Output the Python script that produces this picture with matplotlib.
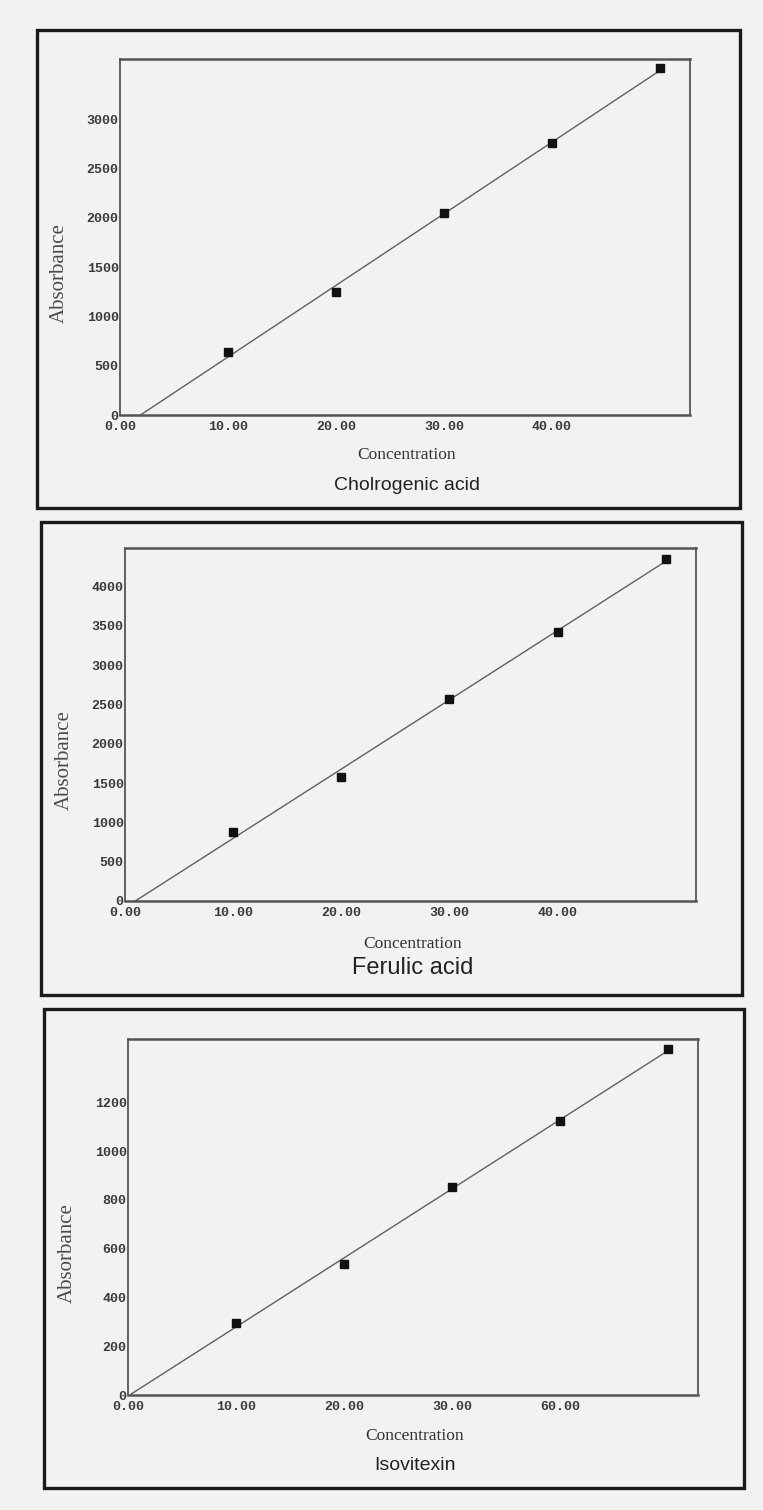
"""Three HPLC calibration curves (absorbance vs concentration), stacked."""

import matplotlib
matplotlib.use("Agg")
import matplotlib.pyplot as plt
import numpy as np
from matplotlib.patches import Rectangle

W, H = 763, 1510
PAPER = "#f2f2f2"

# ---- data -------------------------------------------------------------------
CONC = [10, 20, 30, 40, 50]

CHLOROGENIC = [640, 1245, 2045, 2755, 3515]
FERULIC = [875, 1575, 2565, 3425, 4355]
ISOVITEXIN = [295, 537, 853, 1123, 1418]

TITLES = ["Cholrogenic acid", "Ferulic acid", "Isovitexin"]
X_TICKS = [0, 10, 20, 30, 40]
X_TICKLABELS_1 = ["0.00", "10.00", "20.00", "30.00", "40.00"]
X_TICKLABELS_3 = ["0.00", "10.00", "20.00", "30.00", "60.00"]
Y_TICKS_1 = [0, 500, 1000, 1500, 2000, 2500, 3000]
Y_TICKS_2 = [0, 500, 1000, 1500, 2000, 2500, 3000, 3500, 4000]
Y_TICKS_3 = [0, 200, 400, 600, 800, 1000, 1200]
# -----------------------------------------------------------------------------

# layout in pixels: outer box (l, t, r, b), axes (l, t, r, b), title / xlabel y
PANELS = [
    dict(y=CHLOROGENIC, yticks=Y_TICKS_1, xlabels=X_TICKLABELS_1, ymax=3610,
         box=(37, 30, 740, 508), ax=(120, 59, 690, 415), title_y=485, xl_y=455,
         tsize=14),
    dict(y=FERULIC, yticks=Y_TICKS_2, xlabels=X_TICKLABELS_1, ymax=4490,
         box=(41, 522, 742, 995), ax=(125, 548, 696, 901), title_y=968, xl_y=944,
         tsize=17),
    dict(y=ISOVITEXIN, yticks=Y_TICKS_3, xlabels=X_TICKLABELS_3, ymax=1460,
         box=(44, 1009, 744, 1488), ax=(128, 1039, 698, 1395), title_y=1466,
         xl_y=1436, tsize=14),
]


def fx(px):
    return px / W


def fy(py):
    return 1 - py / H


fig = plt.figure(figsize=(W / 100, H / 100), dpi=100, facecolor=PAPER)

for p, title in zip(PANELS, TITLES):
    bl, bt, br, bb = p["box"]
    fig.patches.append(Rectangle((fx(bl), fy(bb)), fx(br - bl), (bb - bt) / H,
                                 transform=fig.transFigure, fill=False,
                                 edgecolor="#1a1a1a", linewidth=2.4))

    al, at, ar, ab = p["ax"]
    ax = fig.add_axes([fx(al), fy(ab), fx(ar - al), (ab - at) / H])
    ax.set_facecolor(PAPER)

    # least-squares calibration line, drawn from its x-intercept to the last standard
    x = np.array(CONC, dtype=float)
    y = np.array(p["y"], dtype=float)
    slope, icpt = np.polyfit(x, y, 1)
    x0 = max(-icpt / slope, 0.3)
    xs = np.array([x0, x[-1]])
    ax.plot(xs, slope * xs + icpt, color="#606060", linewidth=1.0, zorder=2)
    ax.plot(x, y, linestyle="none", marker="s", markersize=6,
            color="#111111", zorder=3)

    ax.set_xlim(0, 52.8)
    ax.set_ylim(0, p["ymax"])
    ax.set_xticks(X_TICKS)
    ax.set_xticklabels(p["xlabels"])
    ax.set_yticks(p["yticks"])
    ax.set_yticklabels([str(v) for v in p["yticks"]])
    ax.tick_params(length=0, labelsize=9.5, colors="#3a3a3a")
    ax.tick_params(axis="x", pad=4)
    ax.tick_params(axis="y", pad=1)
    for lab in ax.get_xticklabels() + ax.get_yticklabels():
        lab.set_family("Liberation Mono")
        lab.set_fontweight("bold")
    for side, sp in ax.spines.items():
        sp.set_color("#555555")
        sp.set_linewidth(1.3 if side in ("left", "right") else 1.8)

    ax.set_ylabel("Absorbance", family="Liberation Serif", fontsize=15,
                  color="#4a4a4a")
    ax.yaxis.set_label_coords(-0.089, 0.40)

    cx = fx((al + ar) / 2 + 2)
    fig.text(cx, fy(p["xl_y"]), "Concentration", family="Liberation Serif",
             fontsize=12.5, color="#333333", ha="center", va="center")
    fig.text(cx, fy(p["title_y"]), title, family="Liberation Sans",
             fontsize=p["tsize"], color="#222222", ha="center", va="center")

fig.savefig("out.png", dpi=100, facecolor=PAPER)
